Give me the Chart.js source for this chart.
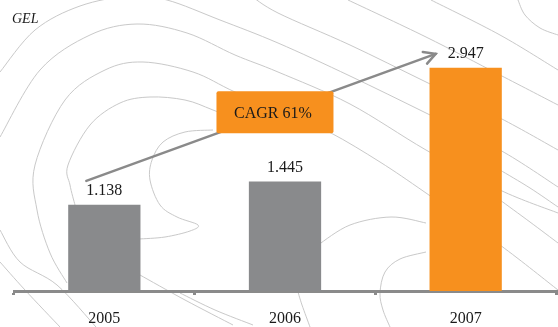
<!DOCTYPE html>
<html>
<head>
<meta charset="utf-8">
<script src="https://cdn.jsdelivr.net/npm/chart.js@4.4.1/dist/chart.umd.min.js"></script>
<style>
  html, body { margin: 0; padding: 0; background: #fff; }
  #wrap { width: 558px; height: 327px; position: relative; }
</style>
</head>
<body>
<div id="wrap"><canvas id="chart" width="558" height="327"></canvas></div>
<script>
// Revenue per year (GEL)
const years = ['2005', '2006', '2007'];
const revenue = [1.138, 1.445, 2.947];
const barColors = ['#898a8c', '#898a8c', '#f7901e'];
const unitLabel = 'GEL';
const cagrLabel = 'CAGR 61%';

const axisGray = '#8a8a8a';
const textColor = '#1a1a1a';
const serif = '"Liberation Serif", "Times New Roman", serif';

// Decorative contour lines in the background (canvas pixels)
const contourLines = [
    [[250,-5],[278,13],[350,45],[426,82],[500,118],[558,150]],
    [[0,72],[35,30],[80,6],[130,-4],[167,0],[220,20],[278,43],[350,76],[426,113],[500,150],[558,187]],
    [[0,137],[40,70],[90,35],[137,24],[187,33],[235,55],[278,72],[350,104],[426,150],[500,190],[558,213]],
    [[67,283],[50,253],[37,210],[35,165],[65,100],[105,70],[143,62],[193,72],[235,92],[290,115],[331,133],[380,162],[426,193],[500,245],[558,290]],
    [[75,205],[70,185],[68,165],[90,125],[120,103],[150,97],[185,100],[213,110],[250,125]],
    [[213,130],[185,132],[163,142],[152,160],[150,180],[160,205],[177,217],[198,225],[190,231],[165,237],[139,239]],
    [[348,0],[426,37],[500,75],[558,105]],
    [[431,0],[500,35],[558,70]],
    [[518,0],[525,15],[540,28],[558,35]],
    [[318,245],[350,225],[391,217],[426,223]],
    [[426,252],[400,259],[385,272],[380,293],[383,310],[390,327]],
    [[298,292],[302,305],[310,327]],
    [[140,275],[185,300],[233,325]],
    [[180,293],[215,310],[253,325]],
    [[0,230],[20,262],[57,285],[96,327]],
    [[0,262],[25,290],[60,327]],
    [[500,170],[530,188],[558,207]],
    [[500,200],[530,222],[558,243]]
];

// Catmull-Rom curve through the given points
function smoothPath(ctx, pts) {
    ctx.moveTo(pts[0][0], pts[0][1]);
    for (let i = 0; i < pts.length - 1; i++) {
        const p0 = pts[i - 1] || pts[i];
        const p1 = pts[i];
        const p2 = pts[i + 1];
        const p3 = pts[i + 2] || p2;
        ctx.bezierCurveTo(
            p1[0] + (p2[0] - p0[0]) / 6, p1[1] + (p2[1] - p0[1]) / 6,
            p2[0] - (p3[0] - p1[0]) / 6, p2[1] - (p3[1] - p1[1]) / 6,
            p2[0], p2[1]
        );
    }
}

const backgroundPlugin = {
    id: 'contours',
    beforeDraw(chart) {
        const ctx = chart.ctx;
        ctx.save();
        ctx.fillStyle = '#fff';
        ctx.fillRect(0, 0, chart.width, chart.height);
        ctx.strokeStyle = '#c9c9c9';
        ctx.lineWidth = 1;
        contourLines.forEach(pts => {
            ctx.beginPath();
            smoothPath(ctx, pts);
            ctx.stroke();
        });
        ctx.restore();
    }
};

const annotationPlugin = {
    id: 'annotations',
    afterDatasetsDraw(chart) {
        const ctx = chart.ctx;
        const bars = chart.getDatasetMeta(0).data;
        ctx.save();

        // Unit label
        ctx.font = 'italic 14px ' + serif;
        ctx.fillStyle = textColor;
        ctx.textAlign = 'left';
        ctx.textBaseline = 'alphabetic';
        ctx.fillText(unitLabel, 12, 23);

        // Value labels above bars
        ctx.font = '16px ' + serif;
        ctx.textAlign = 'center';
        bars.forEach((bar, i) => {
            ctx.fillText(revenue[i].toFixed(3), bar.x, bar.y - 10);
        });

        // Growth arrow from first to last bar
        const first = bars[0], last = bars[bars.length - 1];
        const tx = first.x - 18, ty = first.y - 24;
        const hx = last.x - 30, hy = last.y - 14;
        ctx.strokeStyle = axisGray;
        ctx.lineWidth = 2.5;
        ctx.lineCap = 'round';
        ctx.beginPath();
        ctx.moveTo(tx, ty);
        ctx.lineTo(hx, hy);
        ctx.stroke();
        const ang = Math.atan2(hy - ty, hx - tx);
        ctx.beginPath();
        ctx.moveTo(hx - 13 * Math.cos(ang - 0.5), hy - 13 * Math.sin(ang - 0.5));
        ctx.lineTo(hx, hy);
        ctx.lineTo(hx - 13 * Math.cos(ang + 0.5), hy - 13 * Math.sin(ang + 0.5));
        ctx.stroke();

        // CAGR box sitting on the arrow
        const t = 0.54;
        const cx = tx + (hx - tx) * t;
        const cy = ty + (hy - ty) * t;
        const bw = 117, bh = 42;
        ctx.fillStyle = '#f7901e';
        ctx.beginPath();
        ctx.roundRect(cx - bw / 2, cy - bh / 2, bw, bh, 2);
        ctx.fill();
        ctx.fillStyle = textColor;
        ctx.font = '16px ' + serif;
        ctx.textBaseline = 'middle';
        ctx.fillText(cagrLabel, cx - 2, cy + 2);

        ctx.restore();
    }
};

new Chart(document.getElementById('chart'), {
    type: 'bar',
    data: {
        labels: years,
        datasets: [{
            data: revenue,
            backgroundColor: barColors,
            borderWidth: 0,
            barPercentage: 0.8,
            categoryPercentage: 0.5
        }]
    },
    options: {
        responsive: false,
        devicePixelRatio: 1,
        animation: false,
        layout: { padding: { left: 14, right: 2, top: 26, bottom: 0 } },
        plugins: {
            legend: { display: false },
            tooltip: { enabled: false }
        },
        scales: {
            y: { display: false, min: 0, max: 3.5 },
            x: {
                afterFit(scale) { scale.height = 36; },
                border: { display: true, color: axisGray, width: 3 },
                grid: {
                    display: true,
                    offset: true,
                    drawOnChartArea: false,
                    drawTicks: true,
                    tickLength: 4,
                    color: axisGray,
                    lineWidth: 3
                },
                ticks: {
                    color: textColor,
                    padding: 14,
                    font: { family: serif, size: 16 }
                }
            }
        }
    },
    plugins: [backgroundPlugin, annotationPlugin]
});
</script>
</body>
</html>
